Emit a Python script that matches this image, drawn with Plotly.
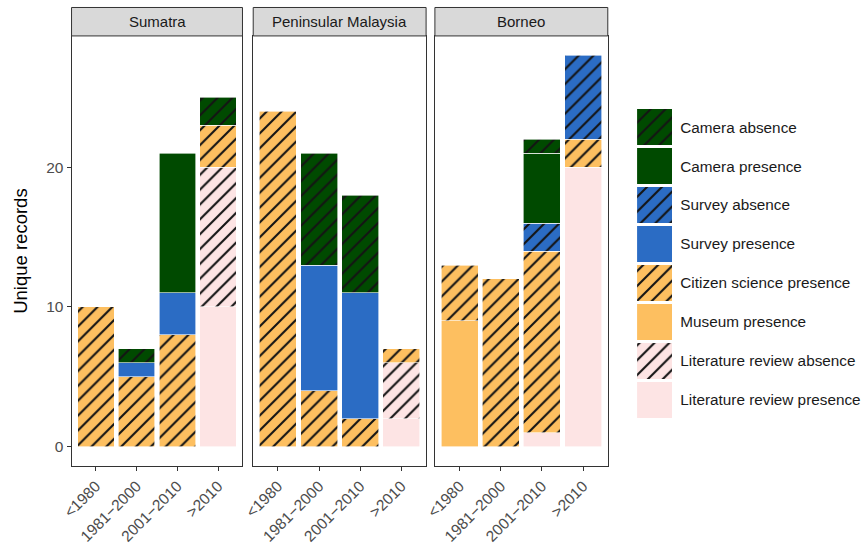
import plotly.graph_objects as go

# Record periods and regions
periods = ["<1980", "1981\u22122000", "2001\u22122010", ">2010"]
regions = ["Sumatra", "Peninsular Malaysia", "Borneo"]

# Unique records per source type (per region, per period)
lit_presence = {"Sumatra": [0, 0, 0, 10], "Peninsular Malaysia": [0, 0, 0, 2], "Borneo": [0, 0, 1, 20]}
lit_absence = {"Sumatra": [0, 0, 0, 10], "Peninsular Malaysia": [0, 0, 0, 4], "Borneo": [0, 0, 0, 0]}
museum_presence = {"Sumatra": [0, 0, 0, 0], "Peninsular Malaysia": [0, 0, 0, 0], "Borneo": [9, 0, 0, 0]}
citizen_presence = {"Sumatra": [10, 5, 8, 3], "Peninsular Malaysia": [24, 4, 2, 1], "Borneo": [4, 12, 13, 2]}
survey_presence = {"Sumatra": [0, 1, 3, 0], "Peninsular Malaysia": [0, 9, 9, 0], "Borneo": [0, 0, 0, 0]}
survey_absence = {"Sumatra": [0, 0, 0, 0], "Peninsular Malaysia": [0, 0, 0, 0], "Borneo": [0, 0, 2, 6]}
camera_presence = {"Sumatra": [0, 0, 10, 0], "Peninsular Malaysia": [0, 0, 0, 0], "Borneo": [0, 0, 5, 0]}
camera_absence = {"Sumatra": [0, 1, 0, 2], "Peninsular Malaysia": [0, 8, 7, 0], "Borneo": [0, 0, 1, 0]}

# Legend keys (one unit each)
key_sizes = [1, 1, 1, 1, 1, 1, 1, 1]

y_ticks = [0, 10, 20]

GREEN = "#004a00"
BLUE = "#2b6cc4"
ORANGE = "#fdbf60"
PINK = "#fde4e4"

# Stacking order, bottom to top: (label, values, colour, hatched)
series = [
    ("Literature review presence", lit_presence, PINK, False),
    ("Literature review absence", lit_absence, PINK, True),
    ("Museum presence", museum_presence, ORANGE, False),
    ("Citizen science presence", citizen_presence, ORANGE, True),
    ("Survey presence", survey_presence, BLUE, False),
    ("Survey absence", survey_absence, BLUE, True),
    ("Camera presence", camera_presence, GREEN, False),
    ("Camera absence", camera_absence, GREEN, True),
]

W, H = 861, 545
FONT = "Liberation Sans, Arial, sans-serif"


def px_x(v):
    return v / W


def px_y(v):
    return 1 - v / H


def pattern_for(color, hatched):
    if hatched:
        return dict(shape="/", bgcolor=color, fgcolor="#141414", size=10.5,
                    solidity=0.2, fillmode="replace")
    return dict(shape="")


fig = go.Figure()

panel_x = [(63, 238), (249, 426), (435, 612)]
panel_top, panel_bottom = 36, 467

for i, region in enumerate(regions):
    ax = "" if i == 0 else str(i + 1)
    for label, values, color, hatched in series:
        vals = [v if v != 0 else None for v in values[region]]
        fig.add_trace(go.Bar(
            x=periods, y=vals, name=label, xaxis="x" + ax, yaxis="y" + ax,
            marker=dict(color=color, line=dict(color="white", width=0.6),
                        pattern=pattern_for(color, hatched)),
            showlegend=False, hoverinfo="skip",
        ))

# Legend keys drawn as horizontal unit bars
for (label, values, color, hatched), size in zip(series, key_sizes):
    fig.add_trace(go.Bar(
        x=[size], y=[label], orientation="h", width=0.93, xaxis="x4", yaxis="y4",
        marker=dict(color=color, line=dict(width=0), pattern=pattern_for(color, hatched)),
        showlegend=False, hoverinfo="skip",
    ))

tick_font = dict(family=FONT, size=15.5, color="#4d4d4d")
layout = dict(
    width=W, height=H, margin=dict(l=0, r=0, t=0, b=0),
    paper_bgcolor="white", plot_bgcolor="white",
    barmode="stack", bargap=0.1,
    font=dict(family=FONT),
    showlegend=False,
)

for i, (x0, x1) in enumerate(panel_x):
    ax = "" if i == 0 else str(i + 1)
    layout["xaxis" + ax] = dict(
        domain=[px_x(x0), px_x(x1)], anchor="y" + ax,
        type="category", categoryorder="array", categoryarray=periods,
        range=[-0.6, 3.6], showgrid=False, zeroline=False,
        showline=True, linecolor="#333333", linewidth=1, mirror=True,
        ticks="outside", ticklen=4, tickcolor="#333333", tickwidth=1,
        tickangle=-45, tickfont=tick_font,
    )
    layout["yaxis" + ax] = dict(
        domain=[px_y(panel_bottom), px_y(panel_top)], anchor="x" + ax,
        range=[-1.4, 29.4], showgrid=False, zeroline=False,
        showline=True, linecolor="#333333", linewidth=1, mirror=True,
        tickvals=y_ticks, showticklabels=(i == 0),
        ticks="outside" if i == 0 else "", ticklen=4, tickcolor="#333333", tickwidth=1,
        tickfont=tick_font,
    )

key_order = [s[0] for s in series]
layout["xaxis4"] = dict(domain=[px_x(642), px_x(678)], anchor="y4", range=[0, 1],
                        visible=False, fixedrange=True)
layout["yaxis4"] = dict(domain=[px_y(420), px_y(108)], anchor="x4", side="right",
                        type="category", categoryorder="array", categoryarray=key_order,
                        range=[-0.5, 7.5], showgrid=False, zeroline=False, showline=False,
                        ticks="outside", ticklen=4, tickcolor="rgba(0,0,0,0)",
                        tickfont=dict(family=FONT, size=15.3, color="#1a1a1a"))

fig.update_layout(**layout)

# Facet strips
shapes = []
annotations = []
for (x0, x1), region in zip(panel_x, regions):
    shapes.append(dict(type="rect", xref="paper", yref="paper",
                       x0=px_x(x0), x1=px_x(x1), y0=px_y(36), y1=px_y(7.5),
                       fillcolor="#d9d9d9", line=dict(color="#333333", width=1)))
    annotations.append(dict(text=region, xref="paper", yref="paper",
                            x=px_x((x0 + x1) / 2), y=px_y(21.5), showarrow=False,
                            xanchor="center", yanchor="middle",
                            font=dict(size=15, color="#1a1a1a")))

annotations.append(dict(text="Unique records", xref="paper", yref="paper",
                        x=px_x(10), y=px_y((panel_top + panel_bottom) / 2),
                        textangle=-90, showarrow=False, xanchor="center", yanchor="middle",
                        font=dict(size=18.5, color="black")))

fig.update_layout(shapes=shapes, annotations=annotations)

fig.write_html("out.html")
